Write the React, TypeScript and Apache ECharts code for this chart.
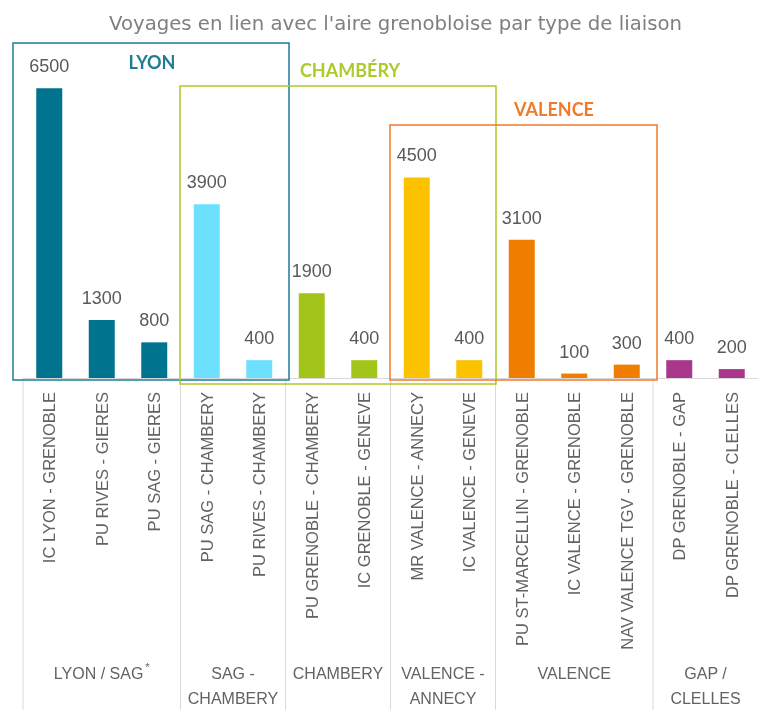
import React, { useEffect, useRef } from "react";
import * as echarts from "echarts";

const categories = [
  "IC LYON - GRENOBLE",
  "PU RIVES - GIERES",
  "PU SAG - GIERES",
  "PU SAG - CHAMBERY",
  "PU RIVES - CHAMBERY",
  "PU GRENOBLE - CHAMBERY",
  "IC GRENOBLE - GENEVE",
  "MR VALENCE - ANNECY",
  "IC VALENCE - GENEVE",
  "PU ST-MARCELLIN - GRENOBLE",
  "IC VALENCE - GRENOBLE",
  "NAV VALENCE TGV - GRENOBLE",
  "DP GRENOBLE - GAP",
  "DP GRENOBLE - CLELLES",
];
const values = [6500, 1300, 800, 3900, 400, 1900, 400, 4500, 400, 3100, 100, 300, 400, 200];
const groupLabels = ["LYON / SAG{sup|*}", "SAG -\nCHAMBERY", "CHAMBERY", "VALENCE -\nANNECY", "VALENCE", "GAP /\nCLELLES"];
const groupSizes = [3, 2, 2, 2, 3, 2];
const groupColors = ["#00738f", "#6de0ff", "#a3c51a", "#fcc200", "#ee7d00", "#a9388d"];
const boxes = [
  { name: "LYON", color: "#1d7d96", x: 13, y: 43, w: 276, h: 337, tx: 152, ty: 62 },
  { name: "CHAMBÉRY", color: "#a9cc2a", x: 180, y: 86, w: 316, h: 298, tx: 350, ty: 70 },
  { name: "VALENCE", color: "#f07a2c", x: 390, y: 125, w: 267, h: 255, tx: 554, ty: 109 },
];

export default function App() {
  const ref = useRef<HTMLDivElement>(null);
  useEffect(() => {
    if (!ref.current) return;
    const chart = echarts.init(ref.current, null, { renderer: "svg" });
    const colors: string[] = [];
    groupSizes.forEach((n, g) => {
      for (let i = 0; i < n; i++) colors.push(groupColors[g]);
    });
    chart.setOption({
      animation: false,
      title: {
        text: "Voyages en lien avec l'aire grenobloise par type de liaison",
        left: 104,
        top: 8,
        textStyle: { fontFamily: "DejaVu Sans", fontSize: 19.7, fontWeight: "normal", color: "#7f7f7f" },
      },
      grid: { left: 23, top: 66, height: 312, width: 740 },
      xAxis: {
        type: "category",
        data: categories,
        axisLine: { lineStyle: { color: "#d9d9d9", width: 1 } },
        axisTick: { show: false },
        axisLabel: {
          rotate: 90,
          interval: 0,
          margin: 14,
          color: "#636363",
          fontFamily: "Liberation Sans",
          fontSize: 16.5,
        },
      },
      yAxis: { type: "value", min: 0, max: 7000, show: false },
      series: [
        {
          type: "bar",
          barWidth: 26,
          data: values.map((v, i) => ({ value: v, itemStyle: { color: colors[i] } })),
          label: {
            show: true,
            position: "top",
            distance: 13,
            color: "#595959",
            fontFamily: "Liberation Sans",
            fontSize: 18,
          },
        },
      ],
    });

    const p0 = chart.convertToPixel({ xAxisIndex: 0 }, categories[0]) as number;
    const p1 = chart.convertToPixel({ xAxisIndex: 0 }, categories[1]) as number;
    const half = (p1 - p0) / 2;
    const axisY = chart.convertToPixel({ yAxisIndex: 0 }, 0) as number;
    const graphics: any[] = [];
    let idx = 0;
    groupSizes.forEach((n, g) => {
      const left = (chart.convertToPixel({ xAxisIndex: 0 }, categories[idx]) as number) - half;
      const right = (chart.convertToPixel({ xAxisIndex: 0 }, categories[idx + n - 1]) as number) + half;
      graphics.push({
        type: "line",
        shape: { x1: left, y1: axisY, x2: left, y2: 710 },
        style: { stroke: "#d9d9d9", lineWidth: 1 },
      });
      graphics.push({
        type: "text",
        x: (left + right) / 2,
        y: 661,
        style: {
          text: groupLabels[g],
          align: "center",
          verticalAlign: "top",
          fill: "#636363",
          font: "16px 'Liberation Sans'",
          lineHeight: 25,
          rich: { sup: { fontSize: 11, verticalAlign: "top", padding: [0, 0, 8, 2], fill: "#636363", fontFamily: "Liberation Sans" } },
        },
      });
      idx += n;
    });
    boxes.forEach((b) => {
      graphics.push({
        type: "rect",
        shape: { x: b.x, y: b.y, width: b.w, height: b.h },
        style: { fill: "none", stroke: b.color, lineWidth: 1.5 },
        z: 10,
      });
      graphics.push({
        type: "text",
        x: b.tx,
        y: b.ty,
        style: {
          text: b.name,
          align: "center",
          verticalAlign: "middle",
          fill: b.color,
          font: "bold 18px Lato",
        },
        z: 10,
      });
    });
    chart.setOption({ graphic: graphics });
    return () => chart.dispose();
  }, []);
  return <div ref={ref} style={{ position: "fixed", left: 0, top: 0, width: 758, height: 710 }} />;
}
